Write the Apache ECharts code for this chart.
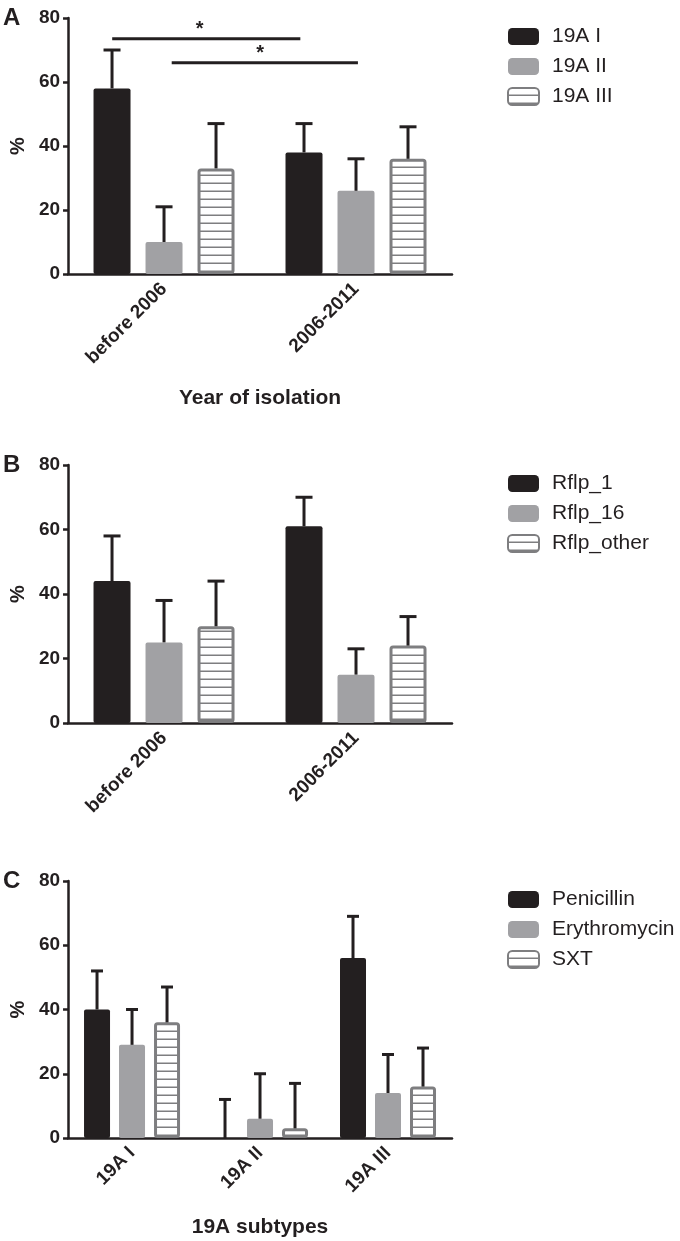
<!DOCTYPE html>
<html><head><meta charset="utf-8">
<script src="https://cdn.jsdelivr.net/npm/echarts@6/dist/echarts.min.js"></script>
<style>html,body{margin:0;padding:0;background:#fff}#c{width:680px;height:1241px}</style>
</head><body><div id="c"></div>
<script>
// ---- data ----
const yTicks = [0, 20, 40, 60, 80];
const catsA = ['before 2006', '2006-2011'];
const namesA = ['19A I', '19A II', '19A III'];
const meanA = [[58, 38], [10, 26], [33, 36]];
const errA = [[70, 47], [21, 36], [47, 46]];
// significance bars: [xStart, xEnd, y, starX] (x in category units)
const sigA = [[-0.27, 0.71, 73.5, 0.185], [0.04, 1.01, 66, 0.5]];

const catsB = ['before 2006', '2006-2011'];
const namesB = ['Rflp_1', 'Rflp_16', 'Rflp_other'];
const meanB = [[44, 61], [25, 15], [30, 24]];
const errB = [[58, 70], [38, 23], [44, 33]];

const catsC = ['19A I', '19A II', '19A III'];
const namesC = ['Penicillin', 'Erythromycin', 'SXT'];
const meanC = [[40, 0, 56], [29, 6, 14], [36, 3, 16]];
const errC = [[52, 12, 69], [40, 20, 26], [47, 17, 28]];

// ---- styles ----
const INK = '#231f20';
const GRAY = '#a1a1a4';
const STRIPE = '#7e7e80';
const FONT = '"Liberation Sans", Arial, sans-serif';

const pc = document.createElement('canvas');
pc.width = 8; pc.height = 8;
const pctx = pc.getContext('2d');
pctx.fillStyle = '#fff'; pctx.fillRect(0, 0, 8, 8);
pctx.fillStyle = STRIPE; pctx.fillRect(0, 6.5, 8, 1.5);

const chart = echarts.init(document.getElementById('c'), null, {renderer: 'canvas'});

const grids = [
  {left: 63, top: 18, width: 389, height: 256},
  {left: 63, top: 465, width: 389, height: 258},
  {left: 63, top: 881, width: 389, height: 257}
];
const barW = [37, 37, 26];
const barGapPx = [15, 15, 9];

function xAxisFor(i, cats, name, nameGap) {
  return {
    type: 'category', gridIndex: i, data: cats,
    name: name || '', nameLocation: 'middle', nameGap: nameGap || 0,
    nameTextStyle: {fontFamily: FONT, fontWeight: 'bold', fontSize: 21, color: INK},
    axisLine: {onZero: false, lineStyle: {color: INK, width: 2.5}},
    axisTick: {alignWithLabel: true, length: 6, lineStyle: {color: INK, width: 2.5}},
    axisLabel: {rotate: 45, margin: 12, fontFamily: FONT, fontWeight: 'bold', fontSize: 19, color: INK, interval: 0},
    splitLine: {show: false}
  };
}
function yAxisFor(i) {
  return {
    type: 'value', gridIndex: i, min: yTicks[0], max: yTicks[yTicks.length - 1],
    interval: yTicks[1] - yTicks[0],
    name: '%', nameLocation: 'middle', nameGap: 40,
    nameTextStyle: {fontFamily: FONT, fontWeight: 'bold', fontSize: 20, color: INK},
    axisLine: {show: true, onZero: false, lineStyle: {color: INK, width: 2.5}},
    axisTick: {show: true, length: 5, lineStyle: {color: INK, width: 2.5}},
    axisLabel: {margin: 8, fontFamily: FONT, fontWeight: 'bold', fontSize: 19, color: INK},
    splitLine: {show: false}
  };
}

const barStyles = [
  {color: INK, borderRadius: 2},
  {color: GRAY, borderRadius: 2},
  {color: {image: pc, repeat: 'repeat'}, borderColor: STRIPE, borderWidth: 3, borderRadius: 2}
];

const series = [];
function addPanel(gi, names, means, errs) {
  const w = barW[gi], g = barGapPx[gi];
  names.forEach((nm, k) => {
    series.push({
      type: 'bar', name: nm, xAxisIndex: gi, yAxisIndex: gi,
      data: means[k], barWidth: w, barGap: (g / w * 100) + '%',
      itemStyle: barStyles[k], z: 2
    });
  });
  names.forEach((nm, k) => {
    const off = (k - 1) * (w + g);
    const capHalf = gi === 2 ? 6 : 8.5;
    series.push({
      type: 'custom', name: nm + ' err', xAxisIndex: gi, yAxisIndex: gi, z: 3,
      data: means[k].map((m, i) => [i, m, errs[k][i]]),
      renderItem: function (params, api) {
        const b = api.coord([api.value(0), api.value(1)]);
        const t = api.coord([api.value(0), api.value(2)]);
        const x = b[0] + off;
        const st = {stroke: INK, lineWidth: 3};
        return {type: 'group', children: [
          {type: 'line', shape: {x1: x, y1: b[1], x2: x, y2: t[1]}, style: st},
          {type: 'line', shape: {x1: x - capHalf, y1: t[1], x2: x + capHalf, y2: t[1]}, style: st}
        ]};
      }
    });
  });
}
addPanel(0, namesA, meanA, errA);
addPanel(1, namesB, meanB, errB);
addPanel(2, namesC, meanC, errC);

// significance annotations (hidden value x-axis on grid 0)
series.push({
  type: 'custom', name: 'sig', xAxisIndex: 3, yAxisIndex: 0, z: 4,
  data: sigA,
  renderItem: function (params, api) {
    const a = api.coord([api.value(0), api.value(2)]);
    const b = api.coord([api.value(1), api.value(2)]);
    const s = api.coord([api.value(3), api.value(2)]);
    return {type: 'group', children: [
      {type: 'line', shape: {x1: a[0], y1: a[1], x2: b[0], y2: b[1]}, style: {stroke: INK, lineWidth: 3}},
      {type: 'text', style: {text: '*', x: s[0], y: a[1] - 9, align: 'center', verticalAlign: 'middle',
        font: 'bold 20px ' + FONT, fill: INK}}
    ]};
  }
});

function legendFor(top, names) {
  return {
    orient: 'vertical', left: 507, top: top, data: names, padding: 0,
    itemWidth: 31, itemHeight: 17, itemGap: 9,
    textStyle: {fontFamily: FONT, fontSize: 21, color: INK, padding: [0, 0, 0, 8]},
    selectedMode: false
  };
}

const letters = [['A', 18], ['B', 465], ['C', 881]];

chart.setOption({
  animation: false,
  backgroundColor: '#fff',
  grid: grids,
  xAxis: [
    xAxisFor(0, catsA, 'Year of isolation', 114),
    xAxisFor(1, catsB),
    xAxisFor(2, catsC, '19A subtypes', 79),
    {type: 'value', gridIndex: 0, min: -0.5, max: 1.5, show: false}
  ],
  yAxis: [yAxisFor(0), yAxisFor(1), yAxisFor(2)],
  legend: [legendFor(26, namesA), legendFor(473, namesB), legendFor(889, namesC)],
  series: series,
  graphic: letters.map(l => ({
    type: 'text', left: 3, top: l[1] - 12,
    style: {text: l[0], font: 'bold 24px ' + FONT, fill: INK}
  }))
});
</script></body></html>
